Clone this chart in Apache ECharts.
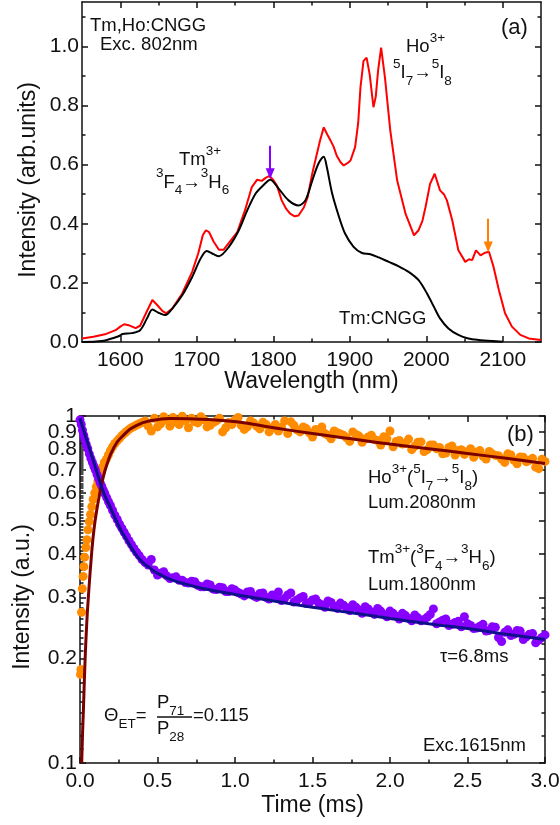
<!DOCTYPE html>
<html><head><meta charset="utf-8">
<script src="https://cdn.jsdelivr.net/npm/echarts@6/dist/echarts.min.js"></script>
<style>html,body{margin:0;padding:0;background:#fff}#c{width:560px;height:825px}</style>
</head><body><div id="c"></div>
<script>
// ---------- Panel (a): emission spectra ----------
const redWavelength = [1550,1565,1580,1594,1600,1605,1611,1620,1626,1635,1642,1648,1655,1660,1668,1681,1694,1702,1708,1712,1716,1722,1729,1735,1742,1753,1763,1772,1779,1785,1790,1795,1800,1805,1811,1817,1822,1828,1833,1840,1845,1851,1856,1861,1866,1871,1875,1879,1883,1888,1892,1897,1901,1907,1911,1914,1918,1922,1926,1931,1934,1937,1941,1946,1953,1962,1973,1984,1990,1995,1999,2005,2011,2018,2023,2027,2034,2042,2051,2056,2060,2065,2071,2077,2082,2088,2095,2103,2112,2123,2134,2150];
const redIntensity = [0.012,0.018,0.026,0.040,0.052,0.060,0.057,0.047,0.055,0.105,0.142,0.126,0.105,0.097,0.113,0.164,0.237,0.300,0.362,0.378,0.372,0.340,0.312,0.312,0.335,0.372,0.445,0.524,0.549,0.545,0.555,0.562,0.548,0.528,0.479,0.450,0.434,0.425,0.428,0.455,0.490,0.570,0.625,0.680,0.726,0.700,0.681,0.660,0.630,0.608,0.597,0.605,0.614,0.659,0.740,0.861,0.951,0.962,0.906,0.794,0.830,0.917,0.996,0.895,0.715,0.546,0.433,0.361,0.378,0.410,0.456,0.535,0.569,0.513,0.500,0.479,0.412,0.310,0.271,0.280,0.277,0.310,0.293,0.302,0.305,0.254,0.175,0.097,0.052,0.024,0.012,0.007];
const blackWavelength = [1550,1576,1594,1600,1603,1615,1626,1635,1642,1650,1659,1668,1681,1694,1705,1713,1722,1729,1742,1755,1766,1777,1787,1796,1807,1820,1833,1842,1851,1859,1866,1870,1877,1886,1894,1905,1916,1927,1938,1951,1964,1977,1990,2001,2010,2018,2029,2042,2055,2068,2086,2100];
const blackIntensity = [0.000,0.003,0.016,0.022,0.027,0.030,0.040,0.080,0.110,0.099,0.091,0.113,0.158,0.220,0.282,0.308,0.297,0.290,0.322,0.378,0.445,0.502,0.530,0.549,0.519,0.479,0.462,0.479,0.546,0.603,0.627,0.592,0.502,0.423,0.366,0.322,0.301,0.297,0.286,0.271,0.256,0.237,0.209,0.164,0.119,0.080,0.046,0.024,0.012,0.007,0.003,0.001];
const wlTicks = [1600,1700,1800,1900,2000,2100];
const wlMinorTicks = [1650,1750,1850,1950,2050];
const intTicks = [0.0,0.2,0.4,0.6,0.8,1.0];
const intMinorTicks = [0.1,0.3,0.5,0.7,0.9,1.1];
const tmArrow = {x:1796, from:0.664, to:0.569};
const hoArrow = {x:2081, from:0.417, to:0.321};

// ---------- Panel (b): decay curves ----------
const hoTime = [0.003,0.006,0.010,0.015,0.020,0.025,0.030,0.038,0.045,0.052,
  0.060,0.068,0.076,0.085,0.095,0.105,0.115,0.125,0.135,0.145,
  0.157,0.170,0.183,0.196,0.210,0.225,0.240,0.255,0.270,0.285,
  0.300,0.316,0.332,0.348,0.365,0.382,0.400,0.420,0.440,0.460,
  0.48,0.52,0.56,0.60,0.64,0.68,0.72,0.76,0.80,0.84,
  0.88,0.92,0.96,1.00,1.04,1.08,1.12,1.16,1.20,1.24,
  1.28,1.32,1.36,1.40,1.44,1.48,1.52,1.56,1.60,1.64,
  1.68,1.72,1.76,1.80,1.84,1.88,1.92,1.96,2.00,2.04,
  2.08,2.12,2.16,2.20,2.24,2.28,2.32,2.36,2.40,2.44,
  2.48,2.52,2.56,2.60,2.64,2.68,2.72,2.76,2.80,2.84,
  2.88,2.92,2.96,3.00];
const hoLum = [0.180,0.186,0.272,0.318,0.345,0.368,0.392,0.418,0.440,0.470,
  0.496,0.520,0.548,0.575,0.600,0.625,0.648,0.668,0.690,0.712,
  0.735,0.750,0.772,0.795,0.815,0.833,0.848,0.862,0.878,0.890,
  0.902,0.915,0.925,0.933,0.942,0.950,0.958,0.968,0.935,0.905,
  0.985,0.950,0.972,0.990,0.945,0.968,0.985,0.955,0.975,0.940,
  0.968,0.900,0.958,0.975,0.940,0.930,0.955,0.918,0.945,0.925,
  0.905,0.968,0.962,0.912,0.930,0.895,0.915,0.930,0.880,0.905,
  0.888,0.865,0.900,0.875,0.858,0.880,0.850,0.872,0.905,0.845,
  0.830,0.858,0.818,0.842,0.800,0.825,0.812,0.782,0.820,0.795,
  0.775,0.805,0.788,0.765,0.790,0.770,0.752,0.778,0.745,0.762,
  0.738,0.755,0.705,0.740];
const hoTimeB = [0.50,0.54,0.58,0.62,0.66,0.70,0.74,0.78,0.82,0.86,0.90,0.94,0.98,
  1.02,1.06,1.10,1.14,1.18,1.22,1.26,1.30,1.34,1.38,1.42,1.46,1.50,1.54,1.58,1.62,1.66,1.70,1.74,1.78,1.82,1.86,1.90,1.94,1.98,
  2.02,2.06,2.10,2.14,2.18,2.22,2.26,2.30,2.34,2.38,2.42,2.46,2.50,2.54,2.58,2.62,2.66,2.70,2.74,2.78,2.82,2.86,2.90,2.94,2.98];
const hoLumB = [0.930,0.995,0.935,0.962,0.998,0.925,0.962,0.995,0.930,0.958,0.985,0.925,0.945,
  0.990,0.915,0.968,0.935,0.960,0.900,0.945,0.928,0.890,0.940,0.900,0.920,0.870,0.905,0.890,0.860,0.895,0.880,0.845,0.885,0.840,0.870,0.855,0.825,0.860,
  0.815,0.850,0.835,0.800,0.840,0.790,0.825,0.805,0.778,0.812,0.772,0.800,0.790,0.760,0.795,0.752,0.778,0.768,0.735,0.772,0.728,0.760,0.745,0.712,0.750];
const tmTime = [0.000,0.008,0.016,0.024,0.032,0.040,0.050,0.060,0.070,0.080,
  0.090,0.100,0.110,0.120,0.130,0.140,0.150,0.160,0.172,0.184,
  0.196,0.210,0.225,0.240,0.255,0.270,0.285,0.300,0.316,0.332,
  0.348,0.365,0.382,0.400,0.420,0.440,0.460,
  0.48,0.52,0.56,0.60,0.64,0.68,0.72,0.76,0.80,0.84,
  0.88,0.92,0.96,1.00,1.04,1.08,1.12,1.16,1.20,1.24,
  1.28,1.32,1.36,1.40,1.44,1.48,1.52,1.56,1.60,1.64,
  1.68,1.72,1.76,1.80,1.84,1.88,1.92,1.96,2.00,2.04,
  2.08,2.12,2.16,2.20,2.24,2.28,2.32,2.36,2.40,2.44,
  2.48,2.52,2.56,2.60,2.64,2.68,2.72,2.76,2.80,2.84,
  2.88,2.92,2.96,3.00];
const tmLum = [0.975,0.945,0.910,0.880,0.855,0.828,0.805,0.778,0.755,0.735,
  0.715,0.698,0.678,0.660,0.642,0.628,0.612,0.598,0.582,0.566,
  0.552,0.535,0.518,0.503,0.488,0.475,0.462,0.450,0.437,0.426,
  0.415,0.405,0.396,0.386,0.378,0.372,0.386,
  0.360,0.352,0.346,0.342,0.336,0.331,0.334,0.325,0.322,0.326,
  0.316,0.320,0.312,0.315,0.307,0.311,0.303,0.308,0.300,0.305,
  0.311,0.298,0.309,0.295,0.302,0.290,0.297,0.286,0.293,0.283,
  0.289,0.280,0.286,0.276,0.282,0.272,0.279,0.268,0.274,0.265,
  0.270,0.261,0.267,0.257,0.263,0.278,0.255,0.260,0.251,0.256,
  0.264,0.249,0.245,0.251,0.241,0.246,0.224,0.242,0.235,0.240,
  0.231,0.236,0.226,0.234];
const tmTimeB = [0.50,0.54,0.58,0.62,0.66,0.70,0.74,0.78,0.82,0.86,0.90,0.94,0.98,
  1.02,1.06,1.10,1.14,1.18,1.22,1.26,1.30,1.34,1.38,1.42,1.46,1.50,1.54,1.58,1.62,1.66,1.70,1.74,1.78,1.82,1.86,1.90,1.94,1.98,
  2.02,2.06,2.10,2.14,2.18,2.22,2.26,2.30,2.34,2.38,2.42,2.46,2.50,2.54,2.58,2.62,2.66,2.70,2.74,2.78,2.82,2.86,2.90,2.94,2.98];
const tmLumB = [0.348,0.356,0.340,0.344,0.336,0.330,0.333,0.322,0.328,0.317,0.321,0.312,0.318,
  0.310,0.303,0.312,0.300,0.309,0.297,0.300,0.294,0.305,0.291,0.299,0.288,0.295,0.289,0.281,0.290,0.279,0.285,0.275,0.281,0.270,0.278,0.268,0.274,0.264,
  0.270,0.260,0.266,0.257,0.262,0.259,0.268,0.252,0.258,0.249,0.254,0.247,0.252,0.244,0.248,0.240,0.247,0.230,0.238,0.233,0.241,0.227,0.235,0.222,0.230];
const hoFitTime = [0.011,0.016,0.022,0.032,0.043,0.054,0.075,0.090,0.108,0.125,0.140,0.172,0.215,0.280,0.366,0.473,0.580,0.700,0.790,1.010,1.250,1.500,1.750,2.000,2.250,2.500,2.750,3.000];
const hoFitValue = [0.100,0.120,0.142,0.194,0.250,0.301,0.402,0.470,0.535,0.590,0.639,0.721,0.805,0.880,0.940,0.972,0.983,0.982,0.978,0.962,0.925,0.890,0.860,0.830,0.805,0.780,0.755,0.730];
const tmFitTime = [0,0.03,0.065,0.1,0.129,0.16,0.194,0.226,0.258,0.3,0.35,0.4,0.45,0.5,0.6,0.7,0.8,1.0,1.25,1.5,1.75,2.0,2.25,2.5,2.75,3.0];
const tmFitValue = [0.985,0.890,0.796,0.710,0.645,0.590,0.547,0.508,0.474,0.440,0.405,0.380,0.365,0.352,0.336,0.326,0.318,0.306,0.293,0.281,0.271,0.261,0.252,0.244,0.235,0.227];
const timeTicks = [0,0.5,1.0,1.5,2.0,2.5,3.0];
const timeMinorTicks = [0.25,0.75,1.25,1.75,2.25,2.75];
const logLabelValues = [0.1,0.2,0.3,0.4,0.5,0.6,0.7,0.8,0.9,1];
// label groups (split so that no two labels in one group collide)
const logLabelsA = [0.1,0.2,0.3,0.4,0.5,0.6];
const logLabelsB = [0.7,0.9];
const logLabelsC = [0.8,1];

// ---------- build ----------
const FF = '"Liberation Sans", Arial, sans-serif';
const INK = '#111';
const pairs = (xs, ys) => xs.map((x, i) => [x, ys[i]]);
const L10 = v => Math.log10(v);
const logMajor = logLabelValues.map(L10);
const logMinorLeft = [];
for (let k = 11; k < 100; k++) if (k % 10) logMinorLeft.push(L10(k / 100));
const logMinorRight = [];
for (let k = 12; k < 30; k += 2) if (k % 10) logMinorRight.push(L10(k / 100));

const lineStyle = {color: INK, width: 1.5};
function axis(o) {
  const major = o.major !== false;
  return {
    gridIndex: o.grid, type: 'value', min: o.min, max: o.max, position: o.pos,
    show: true,
    axisLine: {show: major && !o.noLine, onZero: false, lineStyle},
    axisTick: o.ticks ? {show: true, inside: true, length: major ? 6 : 3.5, customValues: o.ticks, lineStyle} : {show: false},
    axisLabel: o.labels ? {show: true, customValues: o.labels, formatter: o.fmt, margin: o.margin,
      showMinLabel: true, showMaxLabel: true, hideOverlap: false,
      fontFamily: FF, fontSize: 21, color: INK} : {show: false},
    splitLine: {show: false}, minorTick: {show: false}
  };
}
const f1 = v => (+v).toFixed(1);
const xAxis = [
  axis({grid:0, min:1550, max:2150, pos:'bottom', ticks: wlTicks, labels: wlTicks, fmt: v => String(Math.round(v)), margin:8}),
  axis({grid:0, min:1550, max:2150, pos:'bottom', ticks: wlMinorTicks, major:false}),
  axis({grid:0, min:1550, max:2150, pos:'top', ticks: wlTicks}),
  axis({grid:0, min:1550, max:2150, pos:'top', ticks: wlMinorTicks, major:false}),
  axis({grid:1, min:0, max:3, pos:'bottom', ticks: timeTicks, labels: timeTicks, fmt: f1, margin:8}),
  axis({grid:1, min:0, max:3, pos:'bottom', ticks: timeMinorTicks, major:false}),
  axis({grid:1, min:0, max:3, pos:'top', ticks: timeTicks}),
  axis({grid:1, min:0, max:3, pos:'top', ticks: timeMinorTicks, major:false})
];
const logFmt = v => { const r = Math.round(Math.pow(10, v) * 10) / 10; return r >= 1 ? '1' : r.toFixed(1); };
const yAxis = [
  axis({grid:0, min:0, max:1.15, pos:'left', ticks: intTicks, labels: intTicks, fmt: f1, margin:3}),
  axis({grid:0, min:0, max:1.15, pos:'left', ticks: intMinorTicks, major:false}),
  axis({grid:0, min:0, max:1.15, pos:'right', ticks: intTicks}),
  axis({grid:0, min:0, max:1.15, pos:'right', ticks: intMinorTicks, major:false}),
  {gridIndex:1, type:'log', logBase:10, min:0.1, max:1, position:'left', show:false},
  axis({grid:1, min:-1, max:0, pos:'left', ticks: logMajor, labels: logLabelsA.map(L10), fmt: logFmt, margin:3}),
  axis({grid:1, min:-1, max:0, pos:'left', noLine:true, labels: logLabelsB.map(L10), fmt: logFmt, margin:3}),
  axis({grid:1, min:-1, max:0, pos:'left', noLine:true, labels: logLabelsC.map(L10), fmt: logFmt, margin:3}),
  axis({grid:1, min:-1, max:0, pos:'left', ticks: logMinorLeft, major:false}),
  axis({grid:1, min:-1, max:0, pos:'right', ticks: logMajor}),
  axis({grid:1, min:-1, max:0, pos:'right', ticks: logMinorRight, major:false})
];

// text helpers
const mctx = document.createElement('canvas').getContext('2d');
function tw(t, s) { mctx.font = s + 'px "Liberation Sans"'; return mctx.measureText(t).width; }
const MAIN = 18.5, SMALL = 13.5;
function txt(x, y, t, s, align) {
  return {type:'text', x, y, silent:true, style:{text:t, fontSize:s, fontFamily:FF, fill:INK,
    align: align || 'left', textAlign: align || 'left', verticalAlign:'middle', textVerticalAlign:'middle'}};
}
function seq(x, y, parts) {
  const els = []; let cx = x;
  for (const [t, k] of parts) {
    const s = k === 'n' ? MAIN : SMALL;
    const dy = k === 'sup' ? -9 : k === 'sub' ? 8 : 0;
    els.push(txt(cx, y + dy, t, s));
    cx += tw(t, s);
  }
  return els;
}
function rotTitle(x, y, t) {
  return {type:'text', x, y, rotation: Math.PI/2, silent:true, style:{text:t, fontSize:23, fontFamily:FF, fill:INK,
    align:'center', textAlign:'center', verticalAlign:'middle', textVerticalAlign:'middle'}};
}
function title(x, y, t) {
  return {type:'text', x, y, silent:true, style:{text:t, fontSize:23, fontFamily:FF, fill:INK,
    align:'center', textAlign:'center', verticalAlign:'middle', textVerticalAlign:'middle'}};
}

const graphic = [
  rotTitle(29, 180, 'Intensity (arb.units)'),
  title(311.5, 382, 'Wavelength (nm)'),
  rotTitle(23, 597, 'Intensity (a.u.)'),
  title(312.5, 806, 'Time (ms)'),
  txt(90, 26, 'Tm,Ho:CNGG', MAIN),
  txt(100, 45, 'Exc. 802nm', MAIN),
  txt(501, 28, '(a)', 22),
  ...seq(179, 160, [['Tm','n'],['3+','sup']]),
  ...seq(156, 182.5, [['3','sup'],['F','n'],['4','sub'],['\u2192','n'],['3','sup'],['H','n'],['6','sub']]),
  ...seq(406, 47, [['Ho','n'],['3+','sup']]),
  ...seq(393, 73, [['5','sup'],['I','n'],['7','sub'],['\u2192','n'],['5','sup'],['I','n'],['8','sub']]),
  txt(339, 318.5, 'Tm:CNGG', MAIN),
  txt(507, 435, '(b)', 22),
  ...seq(368, 478, [['Ho','n'],['3+','sup'],['(','n'],['5','sup'],['I','n'],['7','sub'],['\u2192','n'],['5','sup'],['I','n'],['8','sub'],[')','n']]),
  txt(368, 503, 'Lum.2080nm', MAIN),
  ...seq(368, 558, [['Tm','n'],['3+','sup'],['(','n'],['3','sup'],['F','n'],['4','sub'],['\u2192','n'],['3','sup'],['H','n'],['6','sub'],[')','n']]),
  txt(368, 585, 'Lum.1800nm', MAIN),
  txt(440, 657, '\u03c4=6.8ms', MAIN),
  txt(423, 746, 'Exc.1615nm', MAIN),
  ...seq(104, 716, [['\u0398','n'],['ET','sub'],['=','n']]),
  ...seq(157, 703, [['P','n'],['71','sub']]),
  {type:'line', silent:true, shape:{x1:157, y1:717, x2:192, y2:717}, style:{stroke:INK, lineWidth:1.3}},
  ...seq(157, 729, [['P','n'],['28','sub']]),
  txt(193, 716, '=0.115', MAIN)
];

const arrowLine = (a, color) => [
  {coord:[a.x, a.from], lineStyle:{color, width:2, type:'solid'}, itemStyle:{color}},
  {coord:[a.x, a.to], lineStyle:{color, width:2, type:'solid'}, itemStyle:{color}}
];

const option = {
  animation: false,
  backgroundColor: '#fff',
  grid: [
    {left:82, top:2, width:459, height:340, containLabel:false, outerBoundsMode:'none'},
    {left:80, top:416, width:465, height:347, containLabel:false, outerBoundsMode:'none'}
  ],
  xAxis, yAxis, graphic,
  series: [
    {type:'line', name:'Tm,Ho:CNGG', xAxisIndex:0, yAxisIndex:0, data: pairs(redWavelength, redIntensity),
      showSymbol:false, symbol:'none', lineStyle:{color:'#ff0000', width:2}, z:3,
      markLine:{silent:true, symbol:['none','triangle'], symbolSize:[9,11], label:{show:false},
        data:[arrowLine(tmArrow, '#8800ff'), arrowLine(hoArrow, '#ff8000')]}},
    {type:'line', name:'Tm:CNGG', xAxisIndex:0, yAxisIndex:0, data: pairs(blackWavelength, blackIntensity),
      showSymbol:false, symbol:'none', smooth:0.3, lineStyle:{color:'#000', width:2}, z:4},
    {type:'scatter', name:'Ho 2080nm', xAxisIndex:4, yAxisIndex:4,
      data: pairs(hoTime, hoLum).concat(pairs(hoTimeB, hoLumB)),
      symbolSize:9, itemStyle:{color:'#ff8c00', opacity:1}, z:2},
    {type:'scatter', name:'Tm 1800nm', xAxisIndex:4, yAxisIndex:4,
      data: pairs(tmTime, tmLum).concat(pairs(tmTimeB, tmLumB)),
      symbolSize:9, itemStyle:{color:'#8800ff', opacity:1}, z:2},
    {type:'line', name:'Ho fit', xAxisIndex:4, yAxisIndex:4, data: pairs(hoFitTime, hoFitValue),
      showSymbol:false, symbol:'none', smooth:true, lineStyle:{color:'#7a0000', width:3}, z:5},
    {type:'line', name:'Tm fit', xAxisIndex:4, yAxisIndex:4, data: pairs(tmFitTime, tmFitValue),
      showSymbol:false, symbol:'none', smooth:true, lineStyle:{color:'#10108c', width:3}, z:5}
  ]
};
const chart = echarts.init(document.getElementById('c'), null, {renderer:'canvas'});
chart.setOption(option);
</script></body></html>
